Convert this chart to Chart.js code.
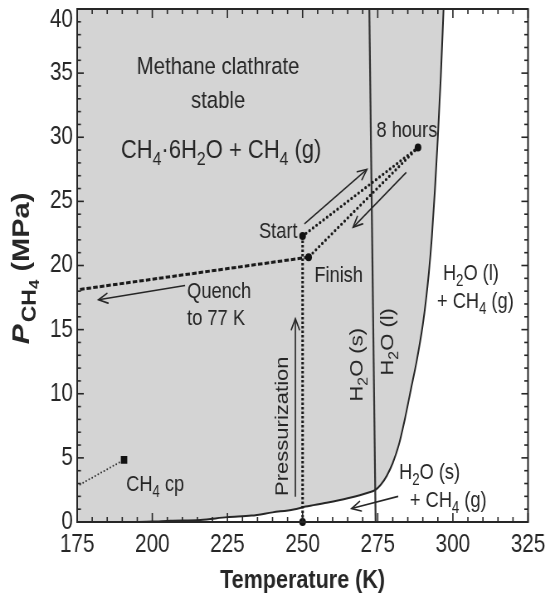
<!DOCTYPE html>
<html>
<head>
<meta charset="utf-8">
<script src="https://cdn.jsdelivr.net/npm/chart.js@4.4.1/dist/chart.umd.min.js"></script>
<style>
html, body { margin: 0; padding: 0; background: #fff; overflow: hidden; }
#c { display: block; }
</style>
</head>
<body>
<canvas id="c" width="663" height="602" style="width:550px;height:602px"></canvas>
<script>
// ---------------- data ----------------
const xTickValues = [175, 200, 225, 250, 275, 300, 325];
const yTickValues = [0, 5, 10, 15, 20, 25, 30, 35, 40];
const xMinorStep = 5;
const yMinorStep = 1;

// clathrate dissociation boundary (T in K, P in MPa)
const boundaryT = [193, 200, 206, 216, 225, 233, 240, 247, 251, 258, 265, 272, 274.2, 276, 278, 280, 282, 284, 286, 288, 290, 291, 292, 293, 294, 295, 296, 296.9];
const boundaryP = [0, 0.03, 0.1, 0.16, 0.38, 0.5, 0.75, 0.98, 1.2, 1.5, 1.85, 2.3, 2.5, 2.9, 3.6, 4.6, 6.0, 8.0, 10.3, 12.6, 15.4, 17.2, 19.4, 22.2, 25.8, 30.0, 34.8, 40];

// ice melting line H2O(s) / H2O(l)
const iceLineT = [274.3, 272.2];
const iceLineP = [0, 40];

// experimental path
const pressurizationT = [250, 250];
const pressurizationP = [0, 22.3];
const heatingT = [250, 288.4];
const heatingP = [22.3, 29.2];
const coolingT = [288.4, 252];
const coolingP = [29.2, 20.65];
const quenchT = [252, 175];
const quenchP = [20.65, 18.1];

const eventNames = ['Start', '8 hours', 'Finish'];
const eventT = [250, 288.4, 252];
const eventP = [22.3, 29.2, 20.65];
const originT = [250];
const originP = [0];

// methane critical point
const cpT = [190.6];
const cpP = [4.85];
const cpLineT = [175, 190.6];
const cpLineP = [2.8, 4.85];

// arrows: heating, cooling, quench, pressurization, toward H2O(s)+CH4(g)
const arrowTailT = [250.6, 284.5, 210.9, 247.6, 281.8];
const arrowTailP = [23.25, 27.26, 18.44, 1.97, 2.0];
const arrowHeadT = [271.4, 266.8, 182.1, 247.6, 266.3];
const arrowHeadP = [27.5, 22.98, 17.33, 15.85, 1.05];

// ---------------- styling ----------------
const FONT = '"Liberation Sans", Arial, Helvetica, sans-serif';
const INK = '#262626';
const GRAY = '#d4d4d4';

// text labels placed in data coordinates (T, P = centre of capitals)
const annotations = [
  { text: 'Methane clathrate', T: 221.9, P: 35.6, size: 24.5, align: 'center' },
  { text: 'stable', T: 221.9, P: 33.0, size: 24.5, align: 'center' },
  { text: 'CH_4·6H_2O + CH_4 (g)', T: 222.9, P: 29.1, size: 26.5, align: 'center' },
  { text: '8 hours', T: 284.7, P: 30.6, size: 22, align: 'center' },
  { text: 'Start', T: 248.3, P: 22.76, size: 22, align: 'right' },
  { text: 'Finish', T: 253.9, P: 19.35, size: 22, align: 'left' },
  { text: 'Quench', T: 211.6, P: 18.05, size: 22, align: 'left' },
  { text: 'to 77 K', T: 211.6, P: 16.0, size: 22, align: 'left' },
  { text: 'H_2O (l)', T: 296.7, P: 19.5, size: 22, align: 'left' },
  { text: '+ CH_4 (g)', T: 294.7, P: 17.3, size: 22, align: 'left' },
  { text: 'H_2O (s)', T: 267.8, P: 12.26, size: 22, align: 'center', rot: -90 },
  { text: 'H_2O (l)', T: 277.9, P: 14.05, size: 22, align: 'center', rot: -90 },
  { text: 'Pressurization', T: 243.0, P: 7.47, size: 22, align: 'center', rot: -90 },
  { text: 'H_2O (s)', T: 282.1, P: 4.0, size: 22, align: 'left' },
  { text: '+ CH_4 (g)', T: 285.7, P: 1.8, size: 22, align: 'left' },
  { text: 'CH_4 cp', T: 191.3, P: 3.05, size: 22, align: 'left' }
];

const pts = (T, P) => T.map((t, i) => ({ x: t, y: P[i] }));

function parseRich(text) {
  const out = [];
  let cur = '';
  for (let i = 0; i < text.length; i++) {
    if (text[i] === '_') {
      if (cur) out.push({ t: cur, sub: false });
      cur = '';
      out.push({ t: text[i + 1], sub: true });
      i++;
    } else cur += text[i];
  }
  if (cur) out.push({ t: cur, sub: false });
  return out;
}
function richFont(p, size, weight, style) {
  const s = p.sub ? size * 0.72 : size;
  return `${style || 'normal'} ${weight || 'normal'} ${s}px ${FONT}`;
}
function richWidth(ctx, parts, size, weight, style) {
  let w = 0;
  for (const p of parts) { ctx.font = richFont(p, size, weight, style); w += ctx.measureText(p.t).width; }
  return w;
}
function drawRich(ctx, parts, x0, base, size, weight, style) {
  let cx = x0;
  for (const p of parts) {
    ctx.font = richFont(p, size, weight, style);
    ctx.fillText(p.t, cx, base + (p.sub ? size * 0.27 : 0));
    cx += ctx.measureText(p.t).width;
  }
}

const frameTicks = {
  id: 'frameTicks',
  afterDatasetsDraw(chart) {
    const { ctx, chartArea: a, scales: { x, y } } = chart;
    ctx.save();
    ctx.strokeStyle = INK;
    ctx.lineWidth = 1.6;
    const seg = (x1, y1, x2, y2) => { ctx.beginPath(); ctx.moveTo(x1, y1); ctx.lineTo(x2, y2); ctx.stroke(); };
    const x0 = xTickValues[0], x1 = xTickValues[xTickValues.length - 1];
    for (let t = x0; t <= x1 + 1e-9; t += xMinorStep) {
      const px = x.getPixelForValue(t);
      const L = xTickValues.includes(t) ? 9 : 5;
      seg(px, a.bottom, px, a.bottom - L);
      seg(px, a.top, px, a.top + L);
    }
    const y0 = yTickValues[0], y1 = yTickValues[yTickValues.length - 1];
    for (let p = y0; p <= y1 + 1e-9; p += yMinorStep) {
      const py = y.getPixelForValue(p);
      const L = yTickValues.includes(p) ? 8 : 4.5;
      seg(a.left, py, a.left + L, py);
      seg(a.right, py, a.right - L, py);
    }
    ctx.lineWidth = 2;
    ctx.strokeRect(a.left, a.top, a.right - a.left, a.bottom - a.top);
    ctx.restore();
  }
};

const arrowHeads = {
  id: 'arrowHeads',
  afterDatasetsDraw(chart) {
    const { ctx, scales: { x, y } } = chart;
    ctx.save();
    ctx.strokeStyle = INK;
    ctx.lineWidth = 1.6;
    ctx.lineCap = 'round';
    for (let i = 0; i < arrowHeadT.length; i++) {
      const hx = x.getPixelForValue(arrowHeadT[i]), hy = y.getPixelForValue(arrowHeadP[i]);
      const tx = x.getPixelForValue(arrowTailT[i]), ty = y.getPixelForValue(arrowTailP[i]);
      const ang = Math.atan2(hy - ty, hx - tx);
      const L = 12, spread = 0.42;
      ctx.beginPath();
      ctx.moveTo(hx - L * Math.cos(ang - spread), hy - L * Math.sin(ang - spread));
      ctx.lineTo(hx, hy);
      ctx.lineTo(hx - L * Math.cos(ang + spread), hy - L * Math.sin(ang + spread));
      ctx.stroke();
    }
    ctx.restore();
  }
};

const textLabels = {
  id: 'textLabels',
  afterDatasetsDraw(chart) {
    const { ctx, scales: { x, y } } = chart;
    ctx.save();
    ctx.fillStyle = INK;
    ctx.textBaseline = 'alphabetic';
    ctx.textAlign = 'left';
    for (const a of annotations) {
      const parts = parseRich(a.text);
      const w = richWidth(ctx, parts, a.size);
      ctx.save();
      ctx.translate(x.getPixelForValue(a.T), y.getPixelForValue(a.P));
      if (a.rot) ctx.rotate(a.rot * Math.PI / 180);
      const x0 = a.align === 'left' ? 0 : a.align === 'right' ? -w : -w / 2;
      drawRich(ctx, parts, x0, 0.358 * a.size, a.size);
      ctx.restore();
    }
    ctx.restore();
  },
  afterDraw(chart) {
    // y-axis title with subscript
    const { ctx, chartArea: a } = chart;
    const parts = [
      { t: 'P', size: 30, weight: 'bold', style: 'italic', dy: 0 },
      { t: 'CH', size: 23, weight: 'bold', style: 'normal', dy: 8 },
      { t: '4', size: 17, weight: 'bold', style: 'normal', dy: 12 },
      { t: ' (MPa)', size: 29, weight: 'bold', style: 'normal', dy: 0 }
    ];
    ctx.save();
    ctx.fillStyle = INK;
    ctx.textBaseline = 'alphabetic';
    let w = 0;
    for (const p of parts) { ctx.font = `${p.style} ${p.weight} ${p.size}px ${FONT}`; w += ctx.measureText(p.t).width + (p.t === 'P' ? 2 : 0); }
    ctx.translate(35, (a.top + a.bottom) / 2 + 3);
    ctx.rotate(-Math.PI / 2);
    let cx = -w / 2;
    for (const p of parts) {
      ctx.font = `${p.style} ${p.weight} ${p.size}px ${FONT}`;
      ctx.fillText(p.t, cx, p.dy);
      cx += ctx.measureText(p.t).width + (p.t === 'P' ? 2 : 0);
    }
    ctx.restore();
  }
};

const lineDs = (label, data, extra) => Object.assign({
  label, data, showLine: true, pointRadius: 0, borderColor: INK, backgroundColor: INK,
  borderWidth: 1.6, fill: false, tension: 0
}, extra);

const datasets = [
  lineDs('clathrate stable field', [{ x: xTickValues[0], y: 0 }, ...pts(boundaryT, boundaryP)],
    { borderWidth: 0, fill: 'end', backgroundColor: GRAY, cubicInterpolationMode: 'monotone', order: 20 }),
  lineDs('dissociation boundary', pts(boundaryT, boundaryP), { borderWidth: 2, cubicInterpolationMode: 'monotone', order: 5 }),
  lineDs('ice melting line', pts(iceLineT, iceLineP), { borderWidth: 2.2, borderColor: '#333', order: 5 }),
  lineDs('pressurization', pts(pressurizationT, pressurizationP), { borderWidth: 3, borderDash: [2.5, 2], borderColor: '#1a1a1a', order: 4 }),
  lineDs('heating', pts(heatingT, heatingP), { borderWidth: 3.2, borderDash: [0, 5], borderCapStyle: 'round', borderColor: '#1a1a1a', order: 4 }),
  lineDs('cooling', pts(coolingT, coolingP), { borderWidth: 3.2, borderDash: [0, 5], borderCapStyle: 'round', borderColor: '#1a1a1a', order: 4 }),
  lineDs('quench', pts(quenchT, quenchP), { borderWidth: 3, borderDash: [5.5, 2.5], borderColor: '#1a1a1a', order: 4 }),
  lineDs('CH4 cp line', pts(cpLineT, cpLineP), { borderWidth: 2, borderDash: [0, 4], borderCapStyle: 'round', borderColor: '#333', order: 4 })
];
for (let i = 0; i < arrowHeadT.length; i++) {
  datasets.push(lineDs('arrow ' + (i + 1), [{ x: arrowTailT[i], y: arrowTailP[i] }, { x: arrowHeadT[i], y: arrowHeadP[i] }], { borderWidth: 1.6, order: 3 }));
}
datasets.push({ label: 'events', data: pts(eventT, eventP), showLine: false, pointRadius: 4, pointBackgroundColor: '#111', pointBorderWidth: 0, order: 1 });
datasets.push({ label: 'start of pressurization', data: pts(originT, originP), showLine: false, pointRadius: 4, pointBackgroundColor: '#111', pointBorderWidth: 0, clip: false, order: 1 });
datasets.push({ label: 'CH4 critical point', data: pts(cpT, cpP), showLine: false, pointStyle: 'rect', pointRadius: 5.5, pointBackgroundColor: '#111', pointBorderWidth: 0, order: 1 });

const yTop = yTickValues[yTickValues.length - 1];

new Chart(document.getElementById('c'), {
  type: 'scatter',
  data: { datasets },
  options: {
    responsive: false,
    animation: false,
    devicePixelRatio: 1,
    layout: { padding: { top: 9, right: 26.5, bottom: 0, left: 0 } },
    plugins: { legend: { display: false }, tooltip: { enabled: false } },
    scales: {
      x: {
        type: 'linear', min: xTickValues[0], max: xTickValues[xTickValues.length - 1],
        afterBuildTicks: s => { s.ticks = xTickValues.map(v => ({ value: v })); },
        ticks: { font: { family: FONT, size: 25 }, color: INK, padding: 8, maxRotation: 0, autoSkip: false },
        grid: { display: false, drawTicks: false },
        border: { display: false },
        title: { display: true, text: 'Temperature (K)', color: INK, font: { family: FONT, size: 26, weight: 'bold' }, padding: { top: 0, bottom: 6 } },
        afterFit: s => { s.height = 80; s.paddingLeft = 0; s.paddingRight = 0; }
      },
      y: {
        type: 'linear', min: yTickValues[0], max: yTop,
        afterBuildTicks: s => { s.ticks = yTickValues.map(v => ({ value: v })); },
        ticks: {
          // the top label sits just below the frame, as in the original figure
          callback: v => (v === yTop ? ['', String(v)] : String(v)),
          font: c => ({ family: FONT, size: 25, lineHeight: (c.tick && c.tick.value === yTop) ? 0.9 : 1.2 }),
          color: INK, padding: 5, autoSkip: false
        },
        grid: { display: false, drawTicks: false },
        border: { display: false },
        afterFit: s => { s.width = 93; s.paddingTop = 0; s.paddingBottom = 0; }
      }
    }
  },
  plugins: [frameTicks, arrowHeads, textLabels]
});
</script>
</body>
</html>
